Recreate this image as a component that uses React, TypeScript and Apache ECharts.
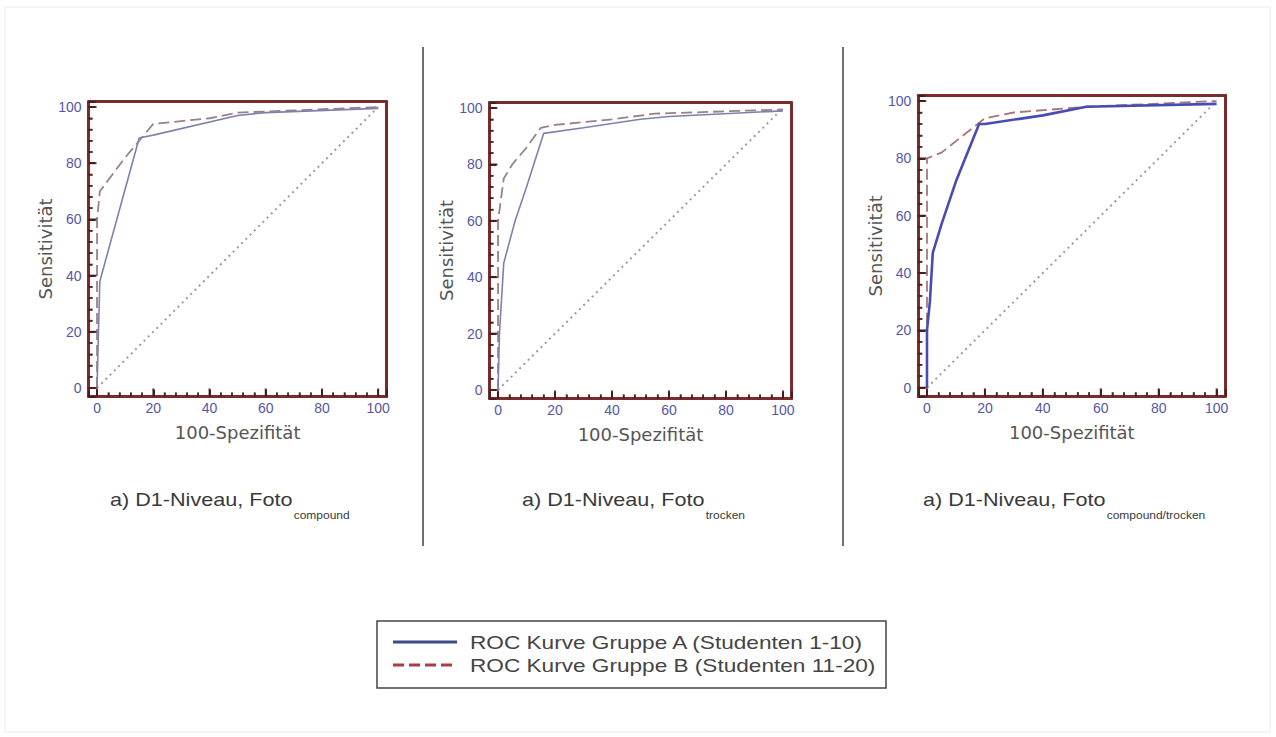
import React, { useEffect, useRef } from "react";
import * as echarts from "echarts";

// ---- data (x = 100-Spezifität, y = Sensitivität) ----
const p1GroupA: [number, number][] = [[0, 0], [0.5, 20], [1, 38], [15, 89], [20, 90], [50, 97], [60, 98], [100, 99.5]];
const p1GroupB: [number, number][] = [[0, 0], [0, 20], [0, 60], [1, 70], [4, 74], [10, 82], [15, 88], [20, 94], [30, 95], [40, 96], [50, 98], [100, 100]];
const p2GroupA: [number, number][] = [[0, 0], [0.5, 20], [2, 45], [6, 60], [10, 72], [16, 91], [30, 93], [50, 96], [60, 97], [100, 99]];
const p2GroupB: [number, number][] = [[0, 0], [0, 60], [2, 75], [5, 80], [10, 86], [15, 93], [20, 94], [40, 96], [55, 98], [100, 99.5]];
const p3GroupA: [number, number][] = [[0, 0], [0, 20], [1, 30], [2, 47], [5, 57], [10, 72], [18, 92], [20, 92], [40, 95], [55, 98], [100, 99]];
const p3GroupB: [number, number][] = [[0, 0], [0, 80], [5, 82], [15, 90], [20, 94], [30, 96], [55, 98], [100, 100]];
const diagonal: [number, number][] = [[0, 0], [100, 100]];
const majorTicks = [0, 20, 40, 60, 80, 100];
const minorTicks = [4, 8, 12, 16, 24, 28, 32, 36, 44, 48, 52, 56, 64, 68, 72, 76, 84, 88, 92, 96];

const captionMain = "a) D1-Niveau, Foto";
const captionSubs = ["compound", "trocken", "compound/trocken"];
const legendA = "ROC Kurve Gruppe A (Studenten 1-10)";
const legendB = "ROC Kurve Gruppe B (Studenten 11-20)";
const xName = "100-Spezifität";
const yName = "Sensitivität";

const BORDER = "#7a2c2c";
const TICK = "#4a1c1c";
const LABEL = "#5656a6";
const NAME = "#555555";

const X_MIN = -3;
const X_MAX = 103;
const Y_MIN = -3;
const Y_MAX = 102;

const grids = [
  { left: 88.6, top: 101.4, width: 298, height: 295 },
  { left: 489.5, top: 102.4, width: 302, height: 296 },
  { left: 918.3, top: 95.3, width: 307, height: 301 },
];

const panelStyles = [
  { a: "#8080ac", aw: 1.6, b: "#9a8088", bw: 1.8 },
  { a: "#8080ac", aw: 1.6, b: "#9a8088", bw: 1.8 },
  { a: "#4a4ab4", aw: 2.6, b: "#a27878", bw: 1.8 },
];

const panelData = [
  [p1GroupA, p1GroupB],
  [p2GroupA, p2GroupB],
  [p3GroupA, p3GroupB],
];

const captionX = [110, 522, 923];

export default function App() {
  const ref = useRef<HTMLDivElement>(null);
  useEffect(() => {
    if (!ref.current) return;
    const chart = echarts.init(ref.current, undefined, { renderer: "svg" });
    const mkAxis = (i: number, isX: boolean) => ({
      type: "value",
      gridIndex: i,
      position: isX ? "bottom" : "left",
      min: isX ? X_MIN : Y_MIN,
      max: isX ? X_MAX : Y_MAX,
      name: isX ? xName : yName,
      nameLocation: "middle",
      nameGap: isX ? 27 : 30,
      nameTextStyle: { color: NAME, fontSize: 18, fontFamily: "DejaVu Sans" },
      splitLine: { show: false },
      axisLine: { show: true, onZero: false, lineStyle: { color: BORDER, width: 3 } },
      axisTick: { show: true, inside: true, length: 7, lineStyle: { color: TICK, width: 2 } },
      minorTick: { show: true, splitNumber: 5, length: 4, lineStyle: { color: TICK, width: 1.5 } },
      axisLabel: { show: true, color: LABEL, fontSize: 14, fontFamily: "Liberation Sans", margin: isX ? 5 : 7 },
    });
    const mkFrame = (i: number, isX: boolean) => ({
      type: "value",
      gridIndex: i,
      position: isX ? "top" : "right",
      min: isX ? X_MIN : Y_MIN,
      max: isX ? X_MAX : Y_MAX,
      splitLine: { show: false },
      axisLine: { show: true, onZero: false, lineStyle: { color: BORDER, width: 3 } },
      axisTick: { show: false },
      axisLabel: { show: false },
    });
    const xAxis: any[] = [];
    const yAxis: any[] = [];
    grids.forEach((_, i) => { xAxis.push(mkAxis(i, true)); yAxis.push(mkAxis(i, false)); });
    grids.forEach((_, i) => { xAxis.push(mkFrame(i, true)); yAxis.push(mkFrame(i, false)); });

    const tickSeries = (i: number, vals: number[], len: number, w: number) => [
      {
        type: "scatter", xAxisIndex: i, yAxisIndex: i, silent: true, clip: false, z: 5,
        data: vals.map((v) => [v, Y_MIN]),
        symbol: "rect", symbolSize: [w, len], symbolOffset: [0, -len / 2],
        itemStyle: { color: TICK },
      },
      {
        type: "scatter", xAxisIndex: i, yAxisIndex: i, silent: true, clip: false, z: 5,
        data: vals.map((v) => [X_MIN, v]),
        symbol: "rect", symbolSize: [len, w], symbolOffset: [len / 2, 0],
        itemStyle: { color: TICK },
      },
    ];

    const series: any[] = [];
    panelData.forEach((pair, i) => {
      const st = panelStyles[i];
      series.push({
        type: "line", xAxisIndex: i, yAxisIndex: i, data: diagonal, showSymbol: false, silent: true,
        lineStyle: { color: "#9c9c9c", width: 2, type: [2, 4] },
      });
      series.push({
        type: "line", xAxisIndex: i, yAxisIndex: i, data: pair[1], showSymbol: false,
        lineStyle: { color: st.b, width: st.bw, type: [11, 5] },
      });
      series.push({
        type: "line", xAxisIndex: i, yAxisIndex: i, data: pair[0], showSymbol: false,
        lineStyle: { color: st.a, width: st.aw },
      });
      series.push(...tickSeries(i, majorTicks, 8, 2));
      series.push(...tickSeries(i, minorTicks, 4, 1.5));
    });
    const graphic: any[] = [
      { type: "rect", shape: { x: 5, y: 7, width: 1265, height: 725 }, style: { fill: "none", stroke: "#ececec", lineWidth: 1 }, silent: true },
      { type: "line", shape: { x1: 423, y1: 47, x2: 423, y2: 546 }, style: { stroke: "#707070", lineWidth: 2 } },
      { type: "line", shape: { x1: 843, y1: 47, x2: 843, y2: 546 }, style: { stroke: "#707070", lineWidth: 2 } },
    ];
    captionSubs.forEach((sub, i) => {
      graphic.push({
        type: "text",
        x: captionX[i],
        y: 491,
        scaleX: 1.2,
        style: {
          text: `{a|${captionMain}}{s|${sub}}`,
          textAlign: "left",
          textVerticalAlign: "top",
          fill: "#3a3a3a",
          fontFamily: "Liberation Sans",
          rich: {
            a: { fontSize: 18, lineHeight: 20, verticalAlign: "top", fill: "#3a3a3a", fontFamily: "Liberation Sans" },
            s: { fontSize: 10, lineHeight: 10, verticalAlign: "top", padding: [19, 0, 0, 1], fill: "#3a3a3a", fontFamily: "Liberation Sans" },
          },
        },
      });
    });
    graphic.push(
      { type: "rect", shape: { x: 377, y: 621, width: 509, height: 67 }, style: { fill: "#fff", stroke: "#444", lineWidth: 1.5 } },
      { type: "line", shape: { x1: 393, y1: 642, x2: 457, y2: 642 }, style: { stroke: "#3b4d88", lineWidth: 3 } },
      { type: "line", shape: { x1: 393, y1: 665, x2: 457, y2: 665 }, style: { stroke: "#b03c3c", lineWidth: 3, lineDash: [11, 5] } },
      { type: "text", x: 470, y: 642, scaleX: 1.19, style: { text: legendA, fontSize: 19, fontFamily: "Liberation Sans", fill: "#444", textAlign: "left", textVerticalAlign: "middle" } },
      { type: "text", x: 470, y: 665, scaleX: 1.19, style: { text: legendB, fontSize: 19, fontFamily: "Liberation Sans", fill: "#444", textAlign: "left", textVerticalAlign: "middle" } },
    );
    chart.setOption({
      animation: false,
      backgroundColor: "#ffffff",
      grid: grids.map((g) => ({ ...g, show: false })),
      xAxis,
      yAxis,
      series,
      graphic,
    });
    return () => chart.dispose();
  }, []);
  return <div ref={ref} style={{ position: "absolute", left: 0, top: 0, width: 1276, height: 737 }} />;
}
